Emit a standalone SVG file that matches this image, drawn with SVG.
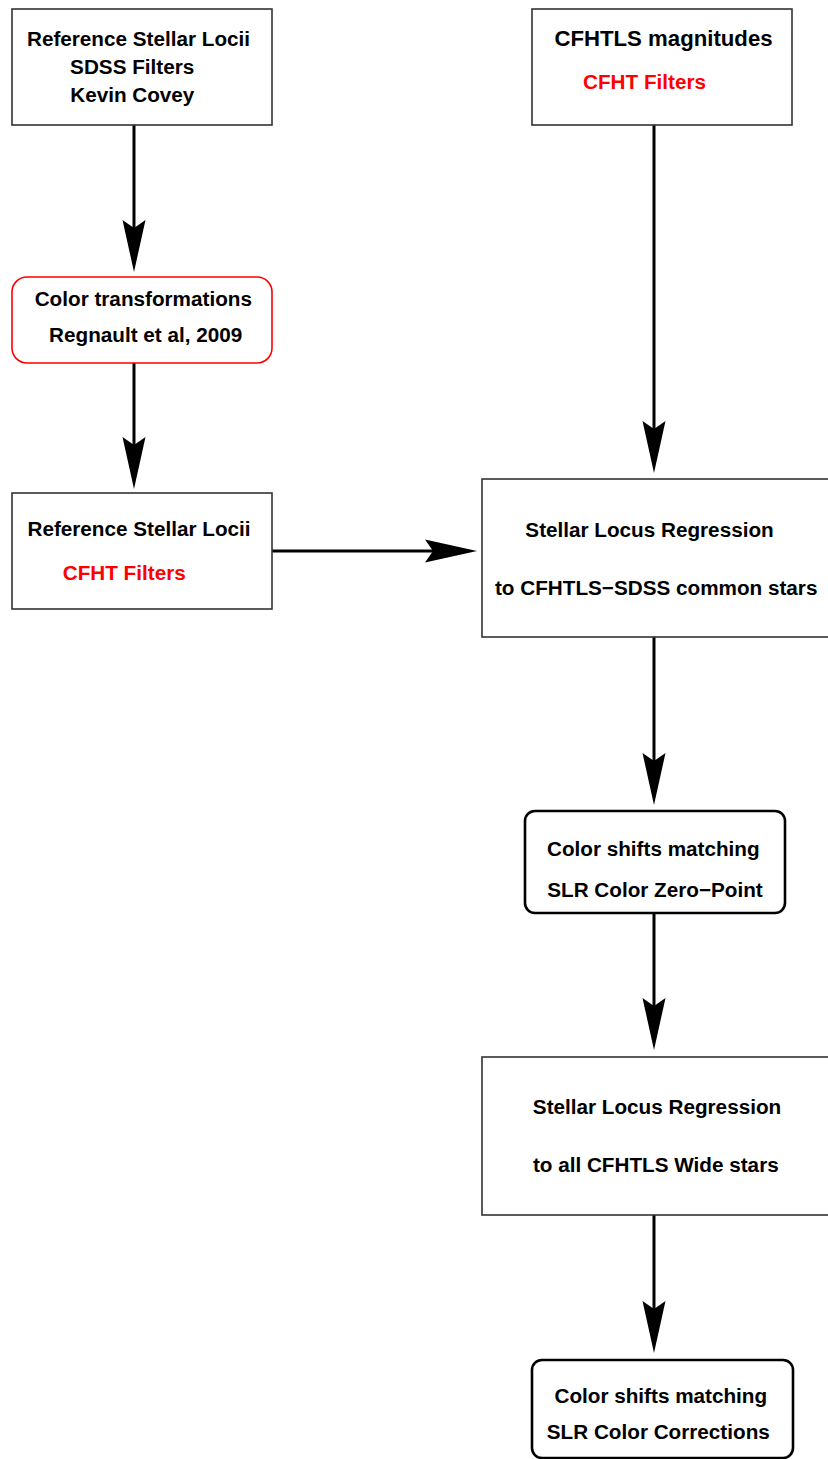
<svg xmlns="http://www.w3.org/2000/svg" width="828" height="1459" viewBox="0 0 828 1459">
<style>
text{font-family:"Liberation Sans",Arial,Helvetica,sans-serif;font-weight:bold;font-size:20.7px;text-anchor:middle;fill:#000}
.red{fill:#ff0000}
.big{font-size:22.2px}
.box{fill:#fff;stroke:#333;stroke-width:1.6}
.rbox{fill:#fff;stroke:#ff0000;stroke-width:1.6}
.bbox{fill:#fff;stroke:#000;stroke-width:2.6}
.conn{stroke:#000;stroke-width:3;fill:none;marker-end:url(#ah)}
</style>
<defs>
<marker id="ah" markerUnits="userSpaceOnUse" viewBox="-10 -12 56 24" refX="0" refY="0" markerWidth="56" markerHeight="24" orient="auto" overflow="visible">
<path d="M44,0 L-8,-11.5 L0,0 L-8,11.5 Z" fill="#000"/>
</marker>
</defs>
<rect width="828" height="1459" fill="#fff"/>
<g id="connectors">
<path class="conn" d="M134,125 L134,228"/>
<path class="conn" d="M134,363 L134,445"/>
<path class="conn" d="M272,551 L433,551"/>
<path class="conn" d="M654,125 L654,429"/>
<path class="conn" d="M654,637 L654,761"/>
<path class="conn" d="M654,913 L654,1006"/>
<path class="conn" d="M654,1215 L654,1309"/>
</g>
<g id="ref-sdss">
<rect class="box" x="12" y="9" width="260" height="116"/>
<text x="138.5" y="45.5">Reference Stellar Locii</text>
<text x="132.2" y="74">SDSS Filters</text>
<text x="132.3" y="102">Kevin Covey</text>
</g>
<g id="color-transform">
<rect class="rbox" x="12" y="277" width="260" height="86" rx="15" ry="15"/>
<text x="143.3" y="306">Color transformations</text>
<text x="145.7" y="341.7">Regnault et al, 2009</text>
</g>
<g id="ref-cfht">
<rect class="box" x="12" y="493" width="260" height="116"/>
<text x="139" y="536">Reference Stellar Locii</text>
<text class="red" x="124.2" y="579.5">CFHT Filters</text>
</g>
<g id="cfhtls-mag">
<rect class="box" x="532" y="9" width="260" height="116"/>
<text class="big" x="663.5" y="45.5">CFHTLS magnitudes</text>
<text class="red" x="644.5" y="89">CFHT Filters</text>
</g>
<g id="slr-common">
<rect class="box" x="482" y="479" width="360" height="158"/>
<text x="649.5" y="537">Stellar Locus Regression</text>
<text x="656.2" y="595">to CFHTLS−SDSS common stars</text>
</g>
<g id="shift-zp">
<rect class="bbox" x="525" y="811" width="260" height="102" rx="10" ry="10"/>
<text x="653.3" y="855.7">Color shifts matching</text>
<text x="655" y="897.3">SLR Color Zero−Point</text>
</g>
<g id="slr-wide">
<rect class="box" x="482" y="1057" width="360" height="158"/>
<text x="657" y="1114">Stellar Locus Regression</text>
<text x="655.8" y="1171.7">to all CFHTLS Wide stars</text>
</g>
<g id="shift-corr">
<rect class="bbox" x="532" y="1360" width="261" height="98" rx="10" ry="10"/>
<text x="660.8" y="1403.3">Color shifts matching</text>
<text x="658.3" y="1439.3">SLR Color Corrections</text>
</g>
</svg>
